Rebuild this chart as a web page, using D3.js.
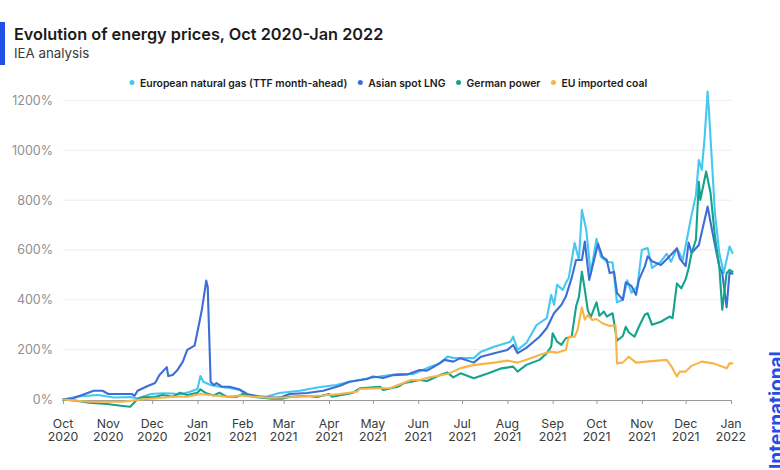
<!DOCTYPE html>
<html><head><meta charset="utf-8">
<script src="https://cdn.jsdelivr.net/npm/d3@7"></script>
<style>
body{margin:0;background:#fff;}
svg{display:block;font-family:Inter,"Noto Sans",sans-serif;}
</style></head><body>
<svg id="chart" width="780" height="470"></svg>
<script>
const seriesNames = ["European natural gas (TTF month-ahead)", "Asian spot LNG", "German power", "EU imported coal"];
const seriesColors = ["#44c8f2", "#3d6ed6", "#14a38b", "#f8b547"];

const gasData = [
["2020-10-01",0],["2020-10-11",12],["2020-10-25",18],["2020-11-05",8],["2020-11-16",10],["2020-11-21",4],
["2020-11-30",22],["2020-12-08",25],["2020-12-15",24],["2020-12-20",20],["2020-12-27",31],["2021-01-01",42],
["2021-01-03",94],["2021-01-05",71],["2021-01-10",58],["2021-01-16",51],["2021-01-23",46],["2021-01-30",38],
["2021-02-04",18],["2021-02-12",14],["2021-02-17",11],["2021-02-26",26],["2021-03-12",35],["2021-03-26",50],
["2021-04-06",58],["2021-04-15",71],["2021-04-29",86],["2021-05-08",94],["2021-05-18",102],["2021-05-29",103],
["2021-06-07",126],["2021-06-16",146],["2021-06-21",172],["2021-06-25",167],["2021-07-02",166],["2021-07-09",166],
["2021-07-14",192],["2021-07-23",212],["2021-08-03",232],["2021-08-05",252],["2021-08-08",199],["2021-08-14",227],
["2021-08-21",299],["2021-08-28",327],["2021-08-31",420],["2021-09-02",380],["2021-09-04",460],["2021-09-08",440],
["2021-09-10",468],["2021-09-12",488],["2021-09-16",628],["2021-09-19",560],["2021-09-21",761],["2021-09-24",680],
["2021-09-27",505],["2021-10-01",645],["2021-10-04",573],["2021-10-08",553],["2021-10-12",550],["2021-10-15",390],
["2021-10-19",400],["2021-10-22",478],["2021-10-25",428],["2021-10-29",455],["2021-11-01",600],["2021-11-05",608],
["2021-11-08",528],["2021-11-14",553],["2021-11-18",585],["2021-11-21",553],["2021-11-25",608],["2021-11-29",560],
["2021-12-02",648],["2021-12-05",740],["2021-12-08",820],["2021-12-10",961],["2021-12-12",921],["2021-12-14",1055],
["2021-12-16",1236],["2021-12-17",1150],["2021-12-21",749],["2021-12-24",588],["2021-12-27",508],["2021-12-31",614],
["2022-01-02",588]
];

const lngData = [
["2020-10-01",0],["2020-10-08",5],["2020-10-22",35],["2020-10-28",35],["2020-11-01",22],["2020-11-17",22],
["2020-11-19",15],["2020-11-21",35],["2020-11-28",54],["2020-12-03",66],["2020-12-06",98],["2020-12-11",130],
["2020-12-12",94],["2020-12-15",98],["2020-12-18",116],["2020-12-22",152],["2020-12-25",199],["2020-12-30",216],
["2021-01-01",272],["2021-01-04",360],["2021-01-07",477],["2021-01-08",453],["2021-01-10",71],["2021-01-12",58],
["2021-01-14",66],["2021-01-18",51],["2021-01-23",51],["2021-01-30",40],["2021-02-04",22],["2021-02-12",11],
["2021-02-24",8],["2021-02-28",11],["2021-03-05",22],["2021-03-17",26],["2021-03-28",35],["2021-04-08",54],
["2021-04-15",71],["2021-04-27",82],["2021-05-01",92],["2021-05-08",86],["2021-05-15",98],["2021-05-25",101],
["2021-06-02",118],["2021-06-07",116],["2021-06-14",139],["2021-06-19",159],["2021-06-25",152],["2021-06-30",166],
["2021-07-07",152],["2021-07-09",148],["2021-07-14",172],["2021-07-23",186],["2021-08-01",199],["2021-08-05",219],
["2021-08-08",186],["2021-08-14",207],["2021-08-23",252],["2021-08-28",287],["2021-09-02",347],["2021-09-07",380],
["2021-09-10",413],["2021-09-14",488],["2021-09-17",560],["2021-09-21",560],["2021-09-23",634],["2021-09-26",480],
["2021-10-02",625],["2021-10-05",573],["2021-10-08",560],["2021-10-10",508],["2021-10-13",512],["2021-10-15",428],
["2021-10-19",400],["2021-10-21",470],["2021-10-25",455],["2021-10-28",420],["2021-10-30",480],["2021-11-03",533],
["2021-11-05",575],["2021-11-08",555],["2021-11-14",540],["2021-11-20",575],["2021-11-25",606],["2021-11-27",565],
["2021-12-01",535],["2021-12-03",630],["2021-12-05",588],["2021-12-10",620],["2021-12-16",774],["2021-12-19",680],
["2021-12-24",533],["2021-12-26",508],["2021-12-29",370],["2021-12-31",510],["2022-01-02",505]
];

const powerData = [
["2020-10-01",0],["2020-10-10",-5],["2020-10-19",-13],["2020-10-31",-18],["2020-11-11",-26],["2020-11-16",-29],
["2020-11-21",2],["2020-11-25",10],["2020-12-02",9],["2020-12-08",18],["2020-12-15",11],["2020-12-20",27],
["2020-12-25",18],["2021-01-01",27],["2021-01-03",41],["2021-01-07",25],["2021-01-12",16],["2021-01-16",27],
["2021-01-21",11],["2021-01-28",11],["2021-02-01",22],["2021-02-08",11],["2021-02-21",3],["2021-02-28",3],
["2021-03-05",11],["2021-03-17",14],["2021-03-24",10],["2021-04-01",22],["2021-04-03",11],["2021-04-17",26],
["2021-04-22",45],["2021-05-06",51],["2021-05-08",38],["2021-05-18",51],["2021-05-22",65],["2021-06-02",78],
["2021-06-07",74],["2021-06-16",98],["2021-06-21",108],["2021-06-25",89],["2021-06-30",105],["2021-07-09",85],
["2021-07-19",105],["2021-07-28",125],["2021-08-05",132],["2021-08-08",112],["2021-08-14",139],["2021-08-23",159],
["2021-08-28",186],["2021-08-31",212],["2021-09-01",266],["2021-09-04",232],["2021-09-07",219],["2021-09-10",246],
["2021-09-14",252],["2021-09-17",373],["2021-09-19",413],["2021-09-21",513],["2021-09-23",440],["2021-09-25",360],
["2021-09-27",330],["2021-10-01",390],["2021-10-03",336],["2021-10-06",353],["2021-10-08",333],["2021-10-12",346],
["2021-10-15",236],["2021-10-19",255],["2021-10-21",292],["2021-10-23",270],["2021-10-27",252],["2021-10-30",292],
["2021-11-03",340],["2021-11-05",346],["2021-11-08",300],["2021-11-14",312],["2021-11-20",333],["2021-11-22",326],
["2021-11-25",466],["2021-11-28",446],["2021-12-01",483],["2021-12-03",527],["2021-12-05",587],["2021-12-08",641],
["2021-12-10",874],["2021-12-11",801],["2021-12-12",829],["2021-12-15",915],["2021-12-18",829],["2021-12-21",654],
["2021-12-24",533],["2021-12-26",360],["2021-12-29",507],["2021-12-31",520],["2022-01-02",513]
];

const coalData = [
["2020-10-01",0],["2020-10-19",-9],["2020-11-11",-9],["2020-11-23",0],["2020-12-04",5],["2020-12-15",11],
["2020-12-25",11],["2021-01-03",22],["2021-01-12",16],["2021-01-21",11],["2021-01-30",16],["2021-02-08",11],
["2021-02-21",7],["2021-03-05",9],["2021-03-17",13],["2021-03-28",16],["2021-04-08",22],["2021-04-20",31],
["2021-04-22",42],["2021-05-06",45],["2021-05-13",46],["2021-05-20",62],["2021-05-27",78],["2021-06-02",78],
["2021-06-09",89],["2021-06-21",102],["2021-06-30",126],["2021-07-07",136],["2021-07-14",142],["2021-07-23",148],
["2021-08-01",156],["2021-08-08",148],["2021-08-14",160],["2021-08-23",179],["2021-08-30",192],["2021-09-04",188],
["2021-09-10",199],["2021-09-12",252],["2021-09-16",252],["2021-09-18",279],["2021-09-21",370],["2021-09-23",320],
["2021-09-25",339],["2021-09-28",319],["2021-10-01",323],["2021-10-05",306],["2021-10-10",295],["2021-10-14",299],
["2021-10-15",145],["2021-10-19",148],["2021-10-23",172],["2021-10-28",148],["2021-11-04",152],["2021-11-18",159],
["2021-11-21",135],["2021-11-25",92],["2021-11-27",112],["2021-12-01",112],["2021-12-05",135],["2021-12-12",152],
["2021-12-20",145],["2021-12-29",125],["2021-12-31",145],["2022-01-02",145]
];

const yTickValues = [0, 200, 400, 600, 800, 1000, 1200];
const xStart = "2020-10-01", xEnd = "2022-01-01";
const titleText = "Evolution of energy prices, Oct 2020-Jan 2022";
const subtitleText = "IEA analysis";
const sideText = "International";

const parse = d3.timeParse("%Y-%m-%d");
const svg = d3.select("#chart");
const x = d3.scaleTime().domain([parse(xStart), parse(xEnd)]).range([63, 731]);
const y = d3.scaleLinear().domain([0, 1200]).range([399.5, 100.5]);

// title
svg.append("rect").attr("x",0).attr("y",22).attr("width",5).attr("height",43).attr("fill","#1f4fe6");
svg.append("text").attr("x",14).attr("y",40).attr("font-size",16.3).attr("font-weight",600).attr("fill","#1b1b1b").text(titleText);
svg.append("text").attr("x",14).attr("y",57.5).attr("font-size",13.3).attr("fill","#3a3a3a").text(subtitleText);

// grid
svg.append("g").selectAll("line").data(yTickValues.filter(d=>d>0)).join("line")
  .attr("x1",63).attr("x2",731).attr("y1",d=>y(d)).attr("y2",d=>y(d))
  .attr("stroke","#ececec").attr("stroke-width",1);

// y labels
svg.append("g").selectAll("text").data(yTickValues).join("text")
  .attr("x",53).attr("y",d=>y(d)).attr("dy","0.35em").attr("text-anchor","end")
  .attr("font-size",12.5).attr("fill","#8f8f8f").text(d=>d+"%");

// x axis
const months = d3.timeMonth.range(parse(xStart), d3.timeDay.offset(parse(xEnd),1));
const xAxis = d3.axisBottom(x).tickValues(months).tickSize(4).tickFormat("");
const gx = svg.append("g").attr("transform","translate(0,400)").call(xAxis);
gx.select(".domain").attr("stroke","#9a9a9a").attr("d","M63,0.5H731");
gx.selectAll(".tick line").attr("stroke","#9a9a9a");
const fmtM = d3.timeFormat("%b"), fmtY = d3.timeFormat("%Y");
const xl = svg.append("g");
xl.selectAll("text.m").data(months).join("text").attr("class","m")
  .attr("text-anchor","middle").attr("font-size",12.3).attr("fill","#3a3a3a")
  .attr("x",d=>x(d)).attr("y",428).text(d=>fmtM(d));
xl.selectAll("text.yr").data(months).join("text").attr("class","yr")
  .attr("text-anchor","middle").attr("font-size",12.3).attr("fill","#3a3a3a")
  .attr("x",d=>x(d)).attr("y",441).text(d=>fmtY(d));

// lines
const allData = [gasData, lngData, powerData, coalData];
const line = d3.line().x(d=>x(parse(d[0]))).y(d=>y(d[1]));
svg.append("g").selectAll("path").data(allData).join("path")
  .attr("d", line).attr("fill","none")
  .attr("stroke",(d,i)=>seriesColors[i]).attr("stroke-width",2.1)
  .attr("stroke-linejoin","round").attr("stroke-linecap","round");

// legend
const lg = svg.append("g");
let lx = 132;
seriesNames.forEach((n,i)=>{
  lg.append("circle").attr("cx",lx).attr("cy",82.5).attr("r",2.5).attr("fill",seriesColors[i]);
  const t = lg.append("text").attr("x",lx+8).attr("y",86.5).attr("font-size",10.4).attr("font-weight",600).attr("fill","#1b1b1b").text(n);
  lx = lx + 8 + t.node().getComputedTextLength() + 13;
});

// side text
svg.append("text").attr("transform","translate(783,469) rotate(-90)")
  .attr("font-size",19).attr("font-weight",700).attr("fill","#1f4fe6").text(sideText);
</script>
</body></html>
